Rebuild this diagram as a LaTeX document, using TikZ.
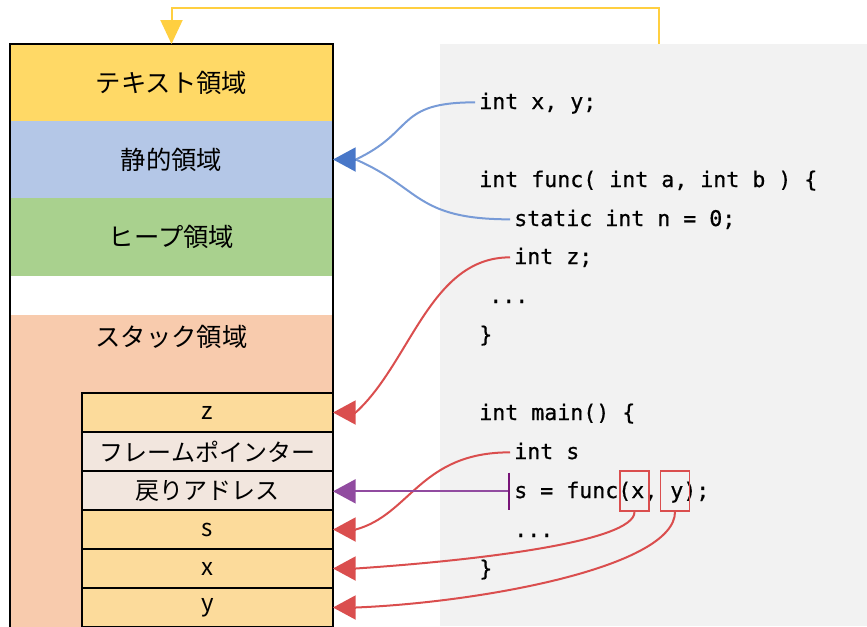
\documentclass[tikz,border=0pt]{standalone}
\usepackage{fontspec}
\setmainfont{Noto Sans CJK JP}
\newfontfamily\codefont[FakeBold=0.6]{DejaVu Sans Mono}
\usetikzlibrary{arrows.meta}

\definecolor{cText}{RGB}{255,217,102}
\definecolor{cStatic}{RGB}{180,199,231}
\definecolor{cHeap}{RGB}{169,209,142}
\definecolor{cStack}{RGB}{248,203,173}
\definecolor{cSlot}{RGB}{252,219,155}
\definecolor{cFrame}{RGB}{242,230,222}
\definecolor{cCode}{RGB}{242,242,242}
\definecolor{cBlueLine}{RGB}{120,155,215}
\definecolor{cBlueHead}{RGB}{72,119,200}
\definecolor{cRed}{RGB}{218,78,78}
\definecolor{cPurple}{RGB}{145,75,160}
\definecolor{cPurpleBar}{RGB}{120,20,120}
\definecolor{cYellow}{RGB}{255,207,64}

\begin{document}
\begin{tikzpicture}[x=0.75pt,y=-0.75pt,
  area/.style={anchor=north west, inner sep=0pt, outer sep=0pt,
    minimum width=323*0.75pt, font=\fontsize{19}{23}\selectfont},
  slot/.style={anchor=north west, draw=black, line width=0.8pt, inner sep=0pt,
    outer sep=0pt, minimum width=251*0.75pt, minimum height=39*0.75pt,
    font=\fontsize{18}{22}\selectfont},
  code/.style={anchor=base west, inner xsep=3pt, inner ysep=0pt,
    text height=10pt, text depth=0pt, font=\codefont\fontsize{16.2}{20}\selectfont},
  pick/.style={draw=cRed, line width=1.4pt, inner sep=0pt,
    minimum width=29*0.75pt, minimum height=40*0.75pt},
  link/.style={line width=1.5pt},
  tipbox/.style={-{Triangle[length=17pt,width=18pt]}},
]
\useasboundingbox (0,0) rectangle (867,626);

% source code panel
\node[anchor=north west, fill=cCode, inner sep=0pt, outer sep=0pt,
  minimum width=427*0.75pt, minimum height=582*0.75pt] (src) at (440,44) {};

% memory areas
\node[area, fill=cText,   minimum height=77*0.75pt] (txt)  at (10,44)  {テキスト領域};
\node[area, fill=cStatic, minimum height=77*0.75pt] (stat) at (10,121) {静的領域};
\node[area, fill=cHeap,   minimum height=78*0.75pt] (heap) at (10,198) {ヒープ領域};
\node[area, fill=white,   minimum height=39*0.75pt] (gap)  at (10,276) {};
\node[area, fill=cStack,  minimum height=320*0.75pt] (stack) at (10,315) {};
\node[font=\fontsize{19}{23}\selectfont, inner sep=0pt] (stacklbl) at (171.5,337) {スタック領域};
\draw[line width=0.8pt] (10,44) rectangle (333,640);

% stack frame slots
\node[slot, fill=cSlot]  (sz)  at (82,393) {z};
\node[slot, fill=cFrame] (sfp) at (82,432) {フレームポインター};
\node[slot, fill=cFrame] (sra) at (82,471) {戻りアドレス};
\node[slot, fill=cSlot]  (ss)  at (82,510) {s};
\node[slot, fill=cSlot]  (sx)  at (82,549) {x};
\node[slot, fill=cSlot]  (sy)  at (82,588) {y};

% source lines
\node[code] (c1)  at (475,109) {int x, y;};
\node[code] (c2)  at (475,187) {int func( int a, int b ) \{};
\node[code] (c3)  at (510,226) {static int n = 0;};
\node[code] (c4)  at (510,264) {int z;};
\node[code] (c5)  at (485,303) {...};
\node[code] (c6)  at (475,342) {\}};
\node[code] (c7)  at (475,420) {int main() \{};
\node[code] (c8)  at (510,459) {int s};
\node[code] (c9)  at (510,498) {s = func(x, y);};
\node[code] (c10) at (510,537) {...};
\node[code] (c11) at (475,576) {\}};

% argument highlights
\node[pick] (px) at (634.5,491) {};
\node[pick] (py) at (675,491) {};

% text section <- program image
\draw[link, cYellow, -{Triangle[length=18pt,width=16.5pt]}]
  ([xshift=4pt]src.north) -- ++(0,-36) -| (txt.north);

% globals and statics -> static section
\coordinate (bStat) at ([xshift=17pt]stat.east);
\draw[link, cBlueLine] (c1.west) .. controls +(-80,0) and +(60,-28) .. (bStat);
\draw[link, cBlueLine] (c3.west) .. controls +(-95,0) and +(65,28) .. (bStat);
\draw[link, cBlueHead, tipbox] (bStat) -- (stat.east);

% locals and arguments -> stack slots
\coordinate (bz) at ([xshift=17pt]sz.east);
\coordinate (bs) at ([xshift=17pt]ss.east);
\coordinate (bx) at ([xshift=17pt]sx.east);
\coordinate (by) at ([xshift=17pt]sy.east);
\draw[link, cRed] (c4.west) .. controls +(-80,0) and +(55,-50) .. (bz);
\draw[link, cRed] (c8.west) .. controls +(-90,0) and +(55,-15) .. (bs);
\draw[link, cRed] (px.south) .. controls +(0,30) and +(120,-8) .. (bx);
\draw[link, cRed] (py.south) .. controls +(0,55) and +(125,-5) .. (by);
\draw[link, cRed, tipbox] (bz) -- (sz.east);
\draw[link, cRed, tipbox] (bs) -- (ss.east);
\draw[link, cRed, tipbox] (bx) -- (sx.east);
\draw[link, cRed, tipbox] (by) -- (sy.east);

% call site -> return address
\draw[link, cPurple, {Bar[width=28pt,color=cPurpleBar]}-{Triangle[length=17pt,width=18pt]}]
  (c9.west) -- (c9.west -| sra.east);
\end{tikzpicture}
\end{document}
